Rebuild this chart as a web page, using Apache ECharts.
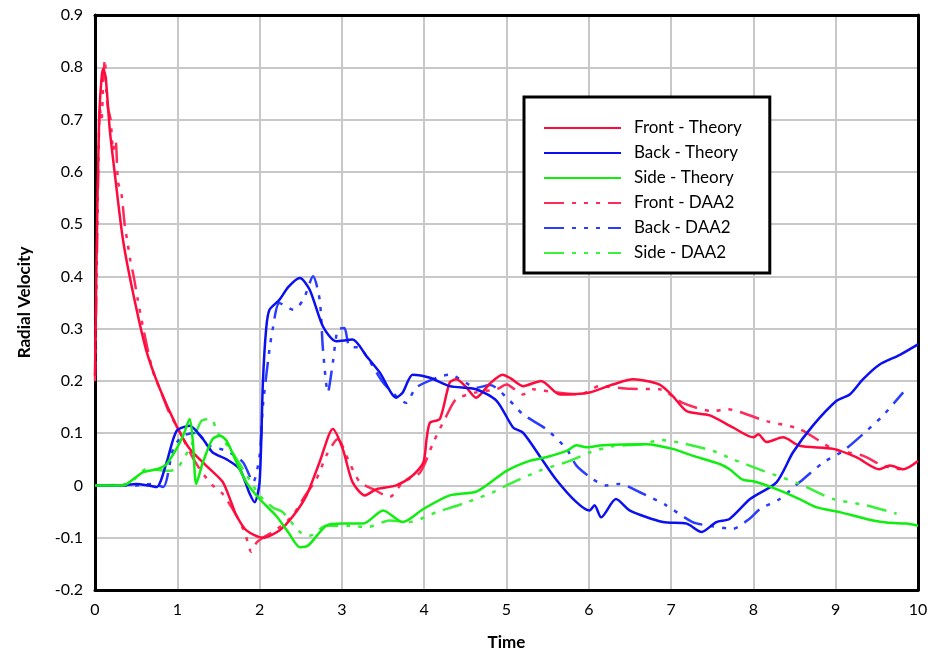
<!DOCTYPE html>
<html>
<head>
<meta charset="utf-8">
<script src="https://cdn.jsdelivr.net/npm/echarts@6/dist/echarts.min.js"></script>
<style>
html,body{margin:0;padding:0;background:#fff;}
#chart{width:935px;height:656px;}
</style>
</head>
<body>
<div id="chart"></div>
<script>
const seriesNames = ['Front - Theory','Back - Theory','Side - Theory','Front - DAA2','Back - DAA2','Side - DAA2'];
const xTicks = [0,1,2,3,4,5,6,7,8,9,10];
const yTicks = [-0.2,-0.1,0,0.1,0.2,0.3,0.4,0.5,0.6,0.7,0.8,0.9];

const frontTheory = [[0,0.21],[0.02,0.45],[0.05,0.7],[0.08,0.78],[0.1,0.797],[0.13,0.78],[0.18,0.68],[0.24,0.597],[0.34,0.47],[0.46,0.37],[0.62,0.26],[0.79,0.184],[0.99,0.114],[1.15,0.07],[1.35,0.038],[1.55,0.007],[1.65,-0.03],[1.72,-0.058],[1.84,-0.086],[2.04,-0.1],[2.24,-0.086],[2.4,-0.06],[2.57,-0.019],[2.73,0.045],[2.89,0.108],[3.01,0.07],[3.13,0.006],[3.28,-0.019],[3.42,-0.007],[3.66,0],[3.86,0.019],[3.99,0.044],[4.03,0.09],[4.07,0.12],[4.19,0.127],[4.31,0.197],[4.39,0.203],[4.5,0.19],[4.63,0.168],[4.8,0.195],[4.95,0.212],[5.05,0.205],[5.2,0.19],[5.42,0.2],[5.65,0.174],[6.01,0.178],[6.29,0.193],[6.54,0.203],[6.86,0.193],[7.02,0.171],[7.19,0.142],[7.47,0.134],[7.75,0.111],[8.0,0.092],[8.06,0.098],[8.16,0.083],[8.36,0.092],[8.56,0.076],[8.97,0.07],[9.25,0.054],[9.53,0.031],[9.66,0.038],[9.82,0.031],[10,0.047]];
const backTheory = [[0,0],[0.3,0],[0.5,0.003],[0.65,0],[0.75,-0.003],[0.87,0.044],[0.99,0.104],[1.15,0.114],[1.31,0.089],[1.43,0.063],[1.6,0.05],[1.76,0.031],[1.88,-0.016],[1.94,-0.032],[2.0,0.006],[2.04,0.197],[2.08,0.3],[2.12,0.336],[2.24,0.355],[2.35,0.38],[2.49,0.397],[2.61,0.374],[2.77,0.304],[2.93,0.276],[3.13,0.279],[3.3,0.247],[3.46,0.216],[3.66,0.168],[3.74,0.178],[3.86,0.212],[4.07,0.206],[4.31,0.19],[4.63,0.184],[4.88,0.162],[5.08,0.111],[5.2,0.101],[5.4,0.057],[5.6,0.012],[5.85,-0.032],[6.01,-0.048],[6.07,-0.038],[6.15,-0.061],[6.33,-0.026],[6.5,-0.048],[6.9,-0.07],[7.19,-0.073],[7.37,-0.089],[7.55,-0.07],[7.71,-0.064],[7.96,-0.026],[8.28,0.006],[8.48,0.063],[8.72,0.114],[9.01,0.162],[9.17,0.174],[9.33,0.203],[9.53,0.231],[9.78,0.25],[10,0.27]];
const sideTheory = [[0,0],[0.3,0],[0.38,0.002],[0.58,0.025],[0.75,0.031],[0.87,0.041],[0.99,0.07],[1.07,0.095],[1.15,0.127],[1.19,0.082],[1.23,0.003],[1.31,0.044],[1.43,0.089],[1.52,0.095],[1.6,0.085],[1.72,0.044],[1.84,0.006],[2.0,-0.026],[2.2,-0.058],[2.35,-0.09],[2.49,-0.118],[2.59,-0.115],[2.81,-0.077],[3.01,-0.073],[3.26,-0.073],[3.5,-0.048],[3.74,-0.07],[3.99,-0.045],[4.31,-0.019],[4.63,-0.012],[4.8,0.005],[5.0,0.028],[5.28,0.047],[5.48,0.054],[5.73,0.066],[5.85,0.077],[5.97,0.073],[6.17,0.077],[6.7,0.079],[7.02,0.07],[7.26,0.057],[7.59,0.041],[7.71,0.031],[7.87,0.011],[8.0,0.008],[8.28,-0.007],[8.56,-0.026],[8.77,-0.042],[9.05,-0.051],[9.37,-0.064],[9.62,-0.071],[9.86,-0.073],[10,-0.077]];
const frontDAA2 = [[0,0.2],[0.02,0.4],[0.04,0.6],[0.06,0.72],[0.08,0.7],[0.1,0.78],[0.12,0.815],[0.14,0.75],[0.16,0.72],[0.19,0.7],[0.22,0.64],[0.25,0.66],[0.28,0.58],[0.32,0.56],[0.36,0.5],[0.4,0.46],[0.43,0.43],[0.47,0.4],[0.52,0.355],[0.6,0.29],[0.7,0.22],[0.8,0.18],[0.9,0.14],[0.99,0.114],[1.1,0.08],[1.2,0.05],[1.3,0.025],[1.43,0],[1.55,-0.016],[1.72,-0.058],[1.82,-0.09],[1.9,-0.127],[1.96,-0.11],[2.04,-0.1],[2.2,-0.085],[2.4,-0.058],[2.55,-0.02],[2.69,0.012],[2.82,0.06],[2.95,0.089],[3.09,0.044],[3.22,0.006],[3.38,-0.007],[3.58,-0.022],[3.74,0.006],[3.95,0.025],[4.11,0.082],[4.27,0.133],[4.39,0.165],[4.63,0.178],[4.88,0.184],[5.0,0.193],[5.2,0.174],[5.32,0.184],[5.6,0.178],[5.89,0.174],[6.13,0.19],[6.5,0.185],[6.86,0.184],[7.14,0.158],[7.51,0.142],[7.67,0.146],[8.16,0.123],[8.56,0.108],[8.97,0.07],[9.33,0.057],[9.57,0.038],[9.78,0.031]];
const backDAA2 = [[0,0],[0.5,0],[0.7,0.003],[0.83,-0.003],[0.95,0.07],[1.07,0.095],[1.23,0.101],[1.39,0.076],[1.6,0.066],[1.8,0.044],[1.92,0.006],[2.0,0.057],[2.04,0.152],[2.12,0.26],[2.16,0.3],[2.24,0.349],[2.41,0.336],[2.53,0.355],[2.65,0.4],[2.73,0.355],[2.77,0.26],[2.83,0.178],[2.89,0.235],[2.95,0.298],[3.03,0.301],[3.09,0.266],[3.22,0.263],[3.5,0.197],[3.66,0.171],[3.78,0.158],[3.9,0.187],[4.15,0.206],[4.31,0.212],[4.47,0.2],[4.63,0.187],[4.8,0.192],[5.04,0.162],[5.2,0.136],[5.48,0.108],[5.73,0.07],[5.85,0.038],[6.05,0.012],[6.21,0],[6.37,0.003],[6.62,-0.013],[6.94,-0.038],[7.26,-0.07],[7.5,-0.078],[7.75,-0.083],[7.95,-0.064],[8.08,-0.045],[8.32,-0.026],[8.56,0.006],[8.85,0.044],[9.09,0.066],[9.33,0.098],[9.57,0.133],[9.82,0.178]];
const sideDAA2 = [[0,0],[0.4,0.003],[0.5,0.015],[0.62,0.031],[0.75,0.03],[0.87,0.028],[0.99,0.031],[1.07,0.05],[1.17,0.076],[1.29,0.123],[1.41,0.127],[1.49,0.101],[1.64,0.07],[1.8,0.031],[2.0,-0.019],[2.16,-0.042],[2.28,-0.051],[2.49,-0.089],[2.61,-0.096],[2.81,-0.077],[3.09,-0.077],[3.3,-0.08],[3.58,-0.067],[3.82,-0.07],[4.15,-0.051],[4.47,-0.035],[4.88,-0.01],[5.0,0],[5.4,0.028],[5.77,0.047],[6.01,0.063],[6.29,0.075],[6.66,0.079],[6.86,0.087],[7.1,0.082],[7.51,0.066],[7.75,0.05],[8.12,0.028],[8.56,0.003],[8.97,-0.026],[9.37,-0.038],[9.74,-0.054]];

const seriesData = [frontTheory, backTheory, sideTheory, frontDAA2, backDAA2, sideDAA2];
const colors = ['#ff0a3c','#0a10f0','#10ee10','#ff2a5a','#2a3cff','#3af03a'];
const daaDash = [20, 8, 4, 8, 4, 8, 4, 8];

const chart = echarts.init(document.getElementById('chart'), null, {renderer:'canvas'});
const font = 'Lato, "Open Sans", sans-serif';
const frameLine = {show: true, onZero: false, lineStyle: {color: '#000', width: 3}};

chart.setOption({
  animation: false,
  backgroundColor: '#fff',
  grid: {left: 95, top: 15, right: 17, bottom: 65},
  xAxis: [{
    type: 'value', min: xTicks[0], max: xTicks[xTicks.length-1], interval: 1,
    name: 'Time', nameLocation: 'middle', nameGap: 44,
    nameTextStyle: {fontFamily: font, fontWeight: 'bold', fontSize: 17, color: '#000'},
    axisLine: frameLine,
    axisTick: {show: false},
    axisLabel: {fontFamily: font, fontSize: 16, color: '#000', margin: 12},
    splitLine: {show: true, lineStyle: {color: '#c8c8c8', width: 2}}
  }, {
    type: 'value', position: 'top', min: xTicks[0], max: xTicks[xTicks.length-1], interval: 1,
    axisLine: frameLine, axisTick: {show: false}, axisLabel: {show: false}, splitLine: {show: false}
  }],
  yAxis: [{
    type: 'value', min: yTicks[0], max: yTicks[yTicks.length-1], interval: 0.1,
    name: 'Radial Velocity', nameLocation: 'middle', nameGap: 62,
    nameTextStyle: {fontFamily: font, fontWeight: 'bold', fontSize: 17, color: '#000'},
    axisLine: frameLine,
    axisTick: {show: false},
    axisLabel: {fontFamily: font, fontSize: 16, color: '#000', margin: 12,
      formatter: v => (Math.round(v*10)/10).toString()},
    splitLine: {show: true, lineStyle: {color: '#c8c8c8', width: 2}}
  }, {
    type: 'value', position: 'right', min: yTicks[0], max: yTicks[yTicks.length-1], interval: 0.1,
    axisLine: frameLine, axisTick: {show: false}, axisLabel: {show: false}, splitLine: {show: false}
  }],
  legend: {
    orient: 'vertical', left: 524, top: 97,
    data: seriesNames,
    itemWidth: 77, itemHeight: 14, itemGap: 7,
    padding: [22, 28, 11, 19],
    borderColor: '#000', borderWidth: 3, backgroundColor: '#fff',
    itemStyle: {color: 'transparent', borderWidth: 0, opacity: 0},
    textStyle: {fontFamily: font, fontSize: 17, color: '#000', lineHeight: 18, padding: [0,0,0,8]}
  },
  series: seriesNames.map((n, i) => ({
    name: n, type: 'line', data: seriesData[i],
    symbol: 'none', smooth: 0.25, z: i < 3 ? 3 : 2,
    lineStyle: {color: colors[i], width: 2.5, type: i < 3 ? 'solid' : daaDash},
    itemStyle: {color: colors[i]}
  }))
});
</script>
</body>
</html>
